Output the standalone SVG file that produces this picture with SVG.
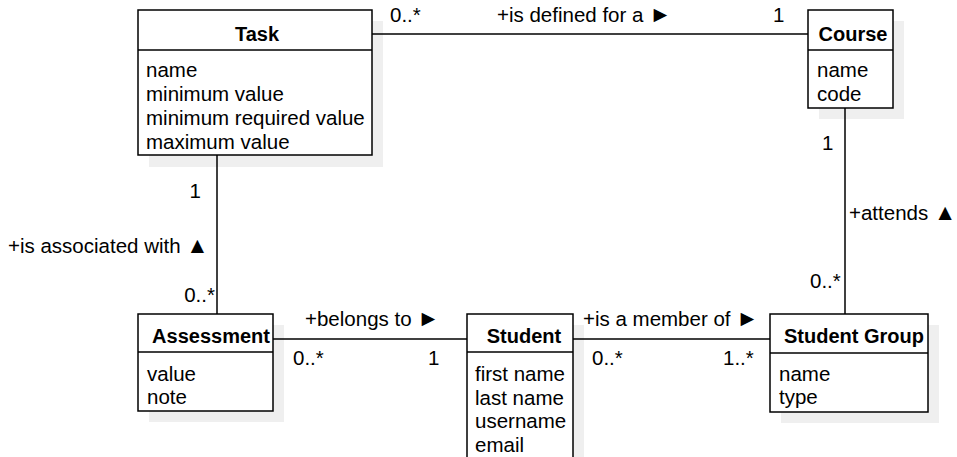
<svg xmlns="http://www.w3.org/2000/svg" width="957" height="457" viewBox="0 0 957 457">
<style>
text{font-family:"Liberation Sans",Arial,sans-serif;font-size:20.5px;fill:#000}
.t{font-weight:bold;font-size:20px;text-anchor:middle}
.sh{fill:#efefef;stroke:none}
.box{fill:#fff;stroke:#000;stroke-width:1.5}
.ln{stroke:#000;stroke-width:1.5;fill:none}
.e{text-anchor:end}
.tri{font-size:22.5px}
</style>
<rect width="957" height="457" fill="#fff"/>
<g id="task">
<rect class="sh" x="149" y="21" width="234" height="146"/>
<rect class="box" x="138" y="10" width="234" height="145"/>
<line class="ln" x1="138" y1="50" x2="372" y2="50"/>
<text class="t" x="257" y="41">Task</text>
<text x="146" y="77">name</text>
<text x="146" y="101">minimum value</text>
<text x="146" y="125">minimum required value</text>
<text x="146" y="149">maximum value</text>
</g>
<g id="course">
<rect class="sh" x="819" y="21" width="85" height="98"/>
<rect class="box" x="808" y="10" width="85" height="98"/>
<line class="ln" x1="808" y1="50" x2="893" y2="50"/>
<text class="t" x="853" y="41">Course</text>
<text x="817" y="77">name</text>
<text x="817" y="101">code</text>
</g>
<g id="assessment">
<rect class="sh" x="149" y="325" width="135" height="97"/>
<rect class="box" x="138" y="314" width="135" height="97"/>
<line class="ln" x1="138" y1="352" x2="273" y2="352"/>
<text class="t" x="211" y="343">Assessment</text>
<text x="147" y="381">value</text>
<text x="147" y="404">note</text>
</g>
<g id="student">
<rect class="sh" x="478" y="325" width="106" height="150"/>
<rect class="box" x="467" y="314" width="106" height="150"/>
<line class="ln" x1="467" y1="352" x2="573" y2="352"/>
<text class="t" x="524" y="343">Student</text>
<text x="475" y="381">first name</text>
<text x="475" y="405">last name</text>
<text x="475" y="428">username</text>
<text x="475" y="452">email</text>
</g>
<g id="studentgroup">
<rect class="sh" x="781" y="325" width="158" height="98"/>
<rect class="box" x="770" y="314" width="158" height="98"/>
<line class="ln" x1="770" y1="353" x2="928" y2="353"/>
<text class="t" x="854" y="343">Student Group</text>
<text x="779" y="381">name</text>
<text x="779" y="404">type</text>
</g>
<g id="connectors">
<line class="ln" x1="372" y1="34" x2="808" y2="34"/>
<text x="390" y="22">0..*</text>
<text x="497" y="22">+is defined for a <tspan class="tri">►</tspan></text>
<text x="773" y="22">1</text>
<line class="ln" x1="217" y1="155" x2="217" y2="314"/>
<text class="e" x="201" y="198">1</text>
<text x="8" y="253">+is associated with <tspan class="tri">▲</tspan></text>
<text class="e" x="215" y="302">0..*</text>
<line class="ln" x1="845" y1="108" x2="845" y2="314"/>
<text x="822" y="150">1</text>
<text x="849" y="220">+attends <tspan class="tri">▲</tspan></text>
<text x="810" y="288">0..*</text>
<line class="ln" x1="273" y1="339" x2="467" y2="339"/>
<text x="305" y="326">+belongs to <tspan class="tri">►</tspan></text>
<text x="293" y="365">0..*</text>
<text x="428" y="365">1</text>
<line class="ln" x1="573" y1="339" x2="770" y2="339"/>
<text x="583" y="326">+is a member of <tspan class="tri">►</tspan></text>
<text x="592" y="365">0..*</text>
<text x="723" y="365">1..*</text>
</g>
</svg>
